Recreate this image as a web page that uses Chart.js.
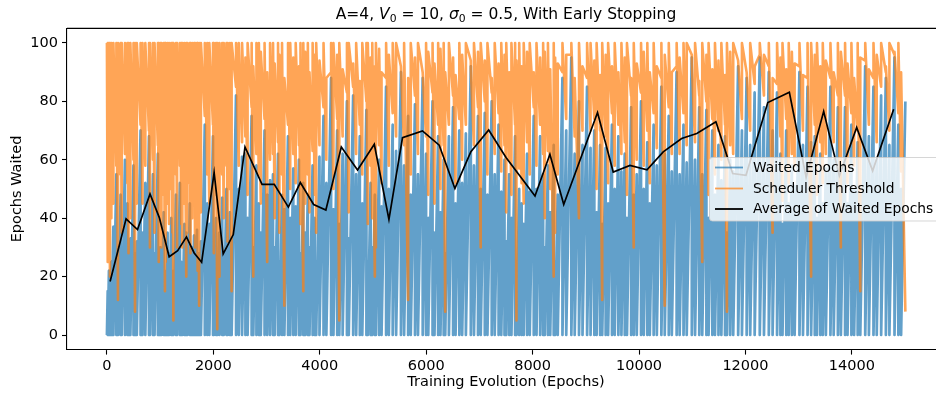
<!DOCTYPE html>
<html>
<head>
<meta charset="utf-8">
<script src="https://cdn.jsdelivr.net/npm/chart.js@4.4.1/dist/chart.umd.min.js"></script>
<style>
  html, body { margin: 0; padding: 0; background: #fff; overflow: hidden; width: 936px; height: 397px; }
  canvas { display: block; }
</style>
</head>
<body>
<canvas id="chart" width="946" height="397"></canvas>
<script>
// Peak waited-epoch count of each patience cycle (counter rises 1 per epoch, then resets)
const waitedPeaks = [
  15, 22, 18,
  25, 37, 55, 30, 48, 20, 60,
  45, 20, 33, 58, 28, 32,
  70, 35, 52, 68, 18,
  55, 28, 62, 16,
  30, 18, 42, 22, 12, 35, 28,
  40, 22, 15, 48, 20,
  52, 25, 18, 38, 35,
  20, 45, 12, 30, 34,
  18, 36, 10, 28, 32,
  72, 45, 38, 68,
  15, 40, 22, 35, 8, 47,
  28, 50, 20, 42, 32,
  82, 50, 61,
  62, 40, 75, 30, 58, 45,
  35, 70, 48, 53,
  55, 30, 62, 25, 48, 43,
  68, 40, 57, 44,
  60, 28, 52, 35, 48,
  30, 58, 40, 25, 61,
  75, 52, 88, 43,
  70, 38, 62, 80, 33,
  82, 55, 68, 45, 77,
  25, 52, 30, 48, 18, 60, 44,
  85, 50, 72, 63,
  90, 58, 75, 48, 79,
  55, 88, 62, 40, 80,
  35, 68, 42, 60, 28, 68,
  78, 45, 70, 52, 69,
  92, 58, 75, 50, 76,
  48, 80, 55, 72, 49,
  60, 32, 55, 40, 68, 25, 50, 45, 38, 62, 49,
  75, 50, 68, 55,
  30, 58, 42, 65, 25, 48,
  88, 70, 95, 62, 80, 65, 85, 64,
  70, 42, 65, 38, 64,
  45, 72, 50, 68, 56,
  62, 40, 78, 48, 55,
  80, 50, 66, 45, 72,
  58, 85, 62, 75, 56,
  90, 55, 72, 59,
  95, 60, 78, 55, 77,
  40, 70, 48, 65, 53,
  68, 35, 60, 56,
  92, 70, 88, 65, 83,
  95, 78, 90, 70, 83,
  62, 38, 70, 45, 58, 51,
  90, 65, 85, 66,
  68, 40, 62, 45, 57,
  85, 60, 78, 55, 78,
  45, 72, 50, 66, 48,
  92, 68, 85, 60, 82,
  88, 65, 95, 72, 50, 80
];

// Scheduler threshold at the start of each cycle
const thresholdHigh = [
  100, 100, 100,
  100, 100, 100, 100, 100, 100, 100,
  100, 100, 100, 100, 100, 100,
  100, 100, 100, 100, 100,
  100, 100, 100, 100,
  100, 100, 100, 100, 100, 100, 100,
  100, 100, 100, 100, 100,
  100, 100, 100, 100, 100,
  100, 100, 100, 100, 100,
  100, 100, 100, 100, 100,
  100, 100, 100, 100,
  100, 100, 100, 100, 100, 100,
  100, 100, 100, 100, 100,
  100, 100, 100,
  100, 95, 100, 100, 92, 100,
  100, 97, 100, 90,
  100, 100, 93, 100, 96, 100,
  88, 100, 100, 95,
  100, 92, 100, 100, 97,
  100, 90, 100, 96, 100,
  94, 100, 88, 100,
  100, 96, 100, 91, 100,
  100, 93, 100, 87, 100,
  100, 100, 95, 100, 92, 100, 98,
  90, 100, 96, 100,
  100, 92, 100, 88, 100,
  95, 100, 90, 100, 97,
  100, 93, 100, 98, 100, 90,
  100, 95, 89, 100, 96,
  100, 91, 100, 97, 100,
  94, 100, 88, 100, 93,
  100, 96, 100, 90, 100, 100, 94, 100, 92, 100, 97,
  100, 90, 100, 95,
  100, 97, 100, 91, 100, 95,
  93, 100, 96, 100, 88, 100, 92, 100,
  100, 94, 100, 89, 100,
  96, 100, 92, 100, 90,
  100, 95, 100, 88, 100,
  93, 100, 97, 100, 90,
  100, 92, 100, 96, 100,
  90, 100, 95, 100,
  100, 93, 100, 87, 100,
  96, 100, 91, 100, 94,
  100, 89, 100, 97,
  100, 94, 100, 90, 100,
  92, 100, 96, 100, 88,
  100, 95, 100, 91, 100, 97,
  93, 100, 89, 100,
  100, 96, 100, 92, 100,
  94, 100, 90, 100, 97,
  100, 93, 100, 88, 100,
  95, 100, 91, 100, 96,
  100, 92, 100, 97, 100, 90
];

// Scheduler threshold at the moment each cycle resets
const thresholdLow = [
  25, 30, 20,
  40, 45, 58, 12, 55, 35, 62,
  52, 28, 40, 60, 8, 45,
  72, 45, 58, 70, 30,
  60, 35, 65, 25,
  42, 30, 48, 15, 25, 45, 38,
  50, 35, 5, 55, 30,
  58, 38, 30, 45, 20,
  35, 52, 28, 40, 45,
  30, 45, 22, 10, 42,
  75, 55, 45, 72,
  28, 48, 2, 42, 20, 55,
  40, 58, 32, 50, 15,
  85, 58, 66,
  68, 48, 78, 20, 62, 55,
  45, 74, 25, 60,
  62, 40, 66, 35, 55, 10,
  72, 50, 62, 52,
  65, 38, 15, 45, 55,
  42, 63, 48, 35, 65,
  78, 60, 90, 50,
  74, 5, 68, 83, 42,
  85, 62, 72, 55, 80,
  38, 58, 40, 20, 30, 65, 52,
  88, 58, 76, 68,
  92, 65, 12, 55, 82,
  62, 90, 68, 48, 83,
  45, 72, 50, 65, 8, 72,
  82, 52, 74, 60, 72,
  94, 65, 78, 30, 80,
  55, 83, 62, 76, 56,
  65, 42, 60, 48, 72, 5, 57, 52, 45, 66, 55,
  78, 58, 72, 62,
  40, 63, 50, 20, 35, 55,
  90, 74, 96, 68, 40, 70, 88, 70,
  74, 50, 70, 12, 68,
  52, 76, 58, 72, 62,
  66, 48, 82, 30, 60,
  83, 58, 70, 52, 76,
  64, 88, 10, 78, 62,
  92, 62, 76, 65,
  96, 66, 82, 25, 80,
  48, 74, 55, 70, 60,
  72, 8, 65, 62,
  94, 74, 90, 70, 86,
  96, 82, 92, 35, 86,
  68, 46, 74, 52, 62, 58,
  92, 70, 88, 20,
  72, 48, 66, 52, 62,
  88, 66, 82, 30, 82,
  52, 76, 58, 70, 15,
  94, 72, 88, 66, 85,
  90, 70, 96, 76, 56, 8
];

// Running average of waited epochs
const avgEpoch = [60, 360, 575, 810, 985, 1170, 1330, 1495, 1640, 1780, 2015, 2185, 2375, 2595,
  2915, 3145, 3410, 3635, 3885, 4115, 4405, 4710, 5025, 5300, 5555, 5930, 6245, 6540, 6840,
  7175, 7500, 8045, 8325, 8585, 9220, 9515, 9830, 10150, 10455, 10800, 11085, 11445, 11760,
  12010, 12420, 12825, 13140, 13470, 13765, 14090, 14390, 14785];
const avgWaited = [18.3, 39.8, 36.1, 48.3, 40.2, 26.8, 28.9, 33.6, 28.1, 24.9, 55.6, 27.8, 34.4, 64.4,
  51.6, 51.6, 43.8, 52.2, 44.7, 42.8, 64.4, 56.5, 65.3, 39.6, 67.6, 69.9, 65.0, 50.2, 62.8,
  70.2, 60.8, 47.6, 61.9, 44.7, 76.2, 55.8, 58.1, 56.6, 62.7, 67.3, 69.0, 73.0, 55.3,
  54.7, 79.6, 83.1, 54.0, 76.6, 54.5, 71.1, 56.2, 77.3];

const xTicks = [0, 2000, 4000, 6000, 8000, 10000, 12000, 14000];
const yTicks = [0, 20, 40, 60, 80, 100];

// Vertices of the sawtooth counter and the threshold, cycle by cycle
const waitedPts = [];
const thresholdPts = [];
let epoch = 0;
const nCycles = Math.min(waitedPeaks.length, thresholdLow.length, thresholdHigh.length);
for (let i = 0; i < nCycles; i++) {
  const p = waitedPeaks[i];
  waitedPts.push({ x: epoch, y: 0 }, { x: epoch + p, y: p });
  thresholdPts.push({ x: epoch, y: thresholdHigh[i] }, { x: epoch + p, y: thresholdLow[i] });
  epoch += p + 1;
}
const avgPts = avgEpoch.map((x, i) => ({ x, y: avgWaited[i] }));

const FONT = 'DejaVu Sans';
const BLUE = 'rgba(31,119,180,0.7)';
const ORANGE = 'rgba(255,127,14,0.7)';

const decorations = {
  id: 'decorations',
  afterDraw(chart) {
    const ctx = chart.ctx;
    const a = chart.chartArea;
    ctx.save();
    // top spine
    ctx.strokeStyle = '#000';
    ctx.lineWidth = 1.1;
    ctx.beginPath();
    ctx.moveTo(a.left, a.top);
    ctx.lineTo(a.right, a.top);
    ctx.stroke();

    // title with italic symbols and subscripts
    const size = 15.5, sub = 10.8;
    const parts = [
      { t: 'A=4, ', font: `${size}px "${FONT}"` },
      { t: 'V', font: `italic ${size}px "${FONT}"` },
      { t: '0', font: `${sub}px "${FONT}"`, dy: 3 },
      { t: ' = 10, ', font: `${size}px "${FONT}"` },
      { t: 'σ', font: `italic ${size}px "${FONT}"` },
      { t: '0', font: `${sub}px "${FONT}"`, dy: 3 },
      { t: ' = 0.5, With Early Stopping', font: `${size}px "${FONT}"` }
    ];
    let total = 0;
    parts.forEach(p => { ctx.font = p.font; p.w = ctx.measureText(p.t).width; total += p.w; });
    let x = (a.left + a.right) / 2 - total / 2;
    ctx.fillStyle = '#000';
    ctx.textBaseline = 'alphabetic';
    ctx.textAlign = 'left';
    parts.forEach(p => { ctx.font = p.font; ctx.fillText(p.t, x, 19 + (p.dy || 0)); x += p.w; });

    // legend box
    const bx = 709.5, by = 157.5, bw = 240, bh = 63.5, r = 3;
    ctx.beginPath();
    ctx.moveTo(bx + r, by);
    ctx.lineTo(bx + bw - r, by);
    ctx.arcTo(bx + bw, by, bx + bw, by + r, r);
    ctx.lineTo(bx + bw, by + bh - r);
    ctx.arcTo(bx + bw, by + bh, bx + bw - r, by + bh, r);
    ctx.lineTo(bx + r, by + bh);
    ctx.arcTo(bx, by + bh, bx, by + bh - r, r);
    ctx.lineTo(bx, by + r);
    ctx.arcTo(bx, by, bx + r, by, r);
    ctx.closePath();
    ctx.fillStyle = 'rgba(255,255,255,0.8)';
    ctx.fill();
    ctx.strokeStyle = 'rgba(204,204,204,0.8)';
    ctx.lineWidth = 1;
    ctx.stroke();

    const rows = [
      { label: 'Waited Epochs', color: BLUE, y: 167.5 },
      { label: 'Scheduler Threshold', color: ORANGE, y: 188.5 },
      { label: 'Average of Waited Epochs', color: '#000', y: 209 }
    ];
    ctx.font = `13.8px "${FONT}"`;
    ctx.textBaseline = 'middle';
    rows.forEach(row => {
      ctx.strokeStyle = row.color;
      ctx.lineWidth = 1.8;
      ctx.beginPath();
      ctx.moveTo(715, row.y);
      ctx.lineTo(743, row.y);
      ctx.stroke();
      ctx.fillStyle = '#000';
      ctx.fillText(row.label, 753, row.y + 0.5);
    });
    ctx.restore();
  }
};

const tickFont = { family: FONT, size: 14.5 };
const plainLabel = v => String(v);

new Chart(document.getElementById('chart').getContext('2d'), {
  type: 'line',
  data: {
    datasets: [
      { label: 'Average of Waited Epochs', data: avgPts, borderColor: '#000', borderWidth: 1.7,
        pointRadius: 0, tension: 0, order: 0 },
      { label: 'Scheduler Threshold', data: thresholdPts, borderColor: ORANGE, borderWidth: 2.6,
        pointRadius: 0, tension: 0, order: 1, borderJoinStyle: 'round' },
      { label: 'Waited Epochs', data: waitedPts, borderColor: BLUE, borderWidth: 2.7,
        pointRadius: 0, tension: 0, order: 2, borderJoinStyle: 'round' }
    ]
  },
  options: {
    responsive: false,
    animation: false,
    devicePixelRatio: 1,
    events: [],
    layout: { padding: { top: 28.4, right: 1, left: 0, bottom: 0 } },
    plugins: { legend: { display: false }, title: { display: false }, tooltip: { enabled: false } },
    scales: {
      x: {
        type: 'linear', min: -750, max: 15750,
        afterBuildTicks: s => { s.ticks = xTicks.map(v => ({ value: v })); },
        afterFit: s => { s.height = 47.4; },
        ticks: { font: tickFont, color: '#000', padding: 3, maxRotation: 0, autoSkip: false, callback: plainLabel },
        grid: { drawOnChartArea: false, drawTicks: true, tickLength: 5, color: '#000', tickWidth: 1.1 },
        border: { display: true, color: '#000', width: 1.1 },
        title: { display: true, text: 'Training Evolution (Epochs)', font: tickFont, color: '#000',
                 padding: { top: 0, bottom: 6 } }
      },
      y: {
        type: 'linear', min: -5, max: 105,
        afterBuildTicks: s => { s.ticks = yTicks.map(v => ({ value: v })); },
        afterFit: s => { s.width = 67; },
        ticks: { font: tickFont, color: '#000', padding: 4, callback: plainLabel },
        grid: { drawOnChartArea: false, drawTicks: true, tickLength: 5, color: '#000', tickWidth: 1.1 },
        border: { display: true, color: '#000', width: 1.1 },
        title: { display: true, text: 'Epochs Waited', font: tickFont, color: '#000',
                 padding: { top: 9, bottom: 0 } }
      }
    }
  },
  plugins: [decorations]
});
</script>
</body>
</html>
